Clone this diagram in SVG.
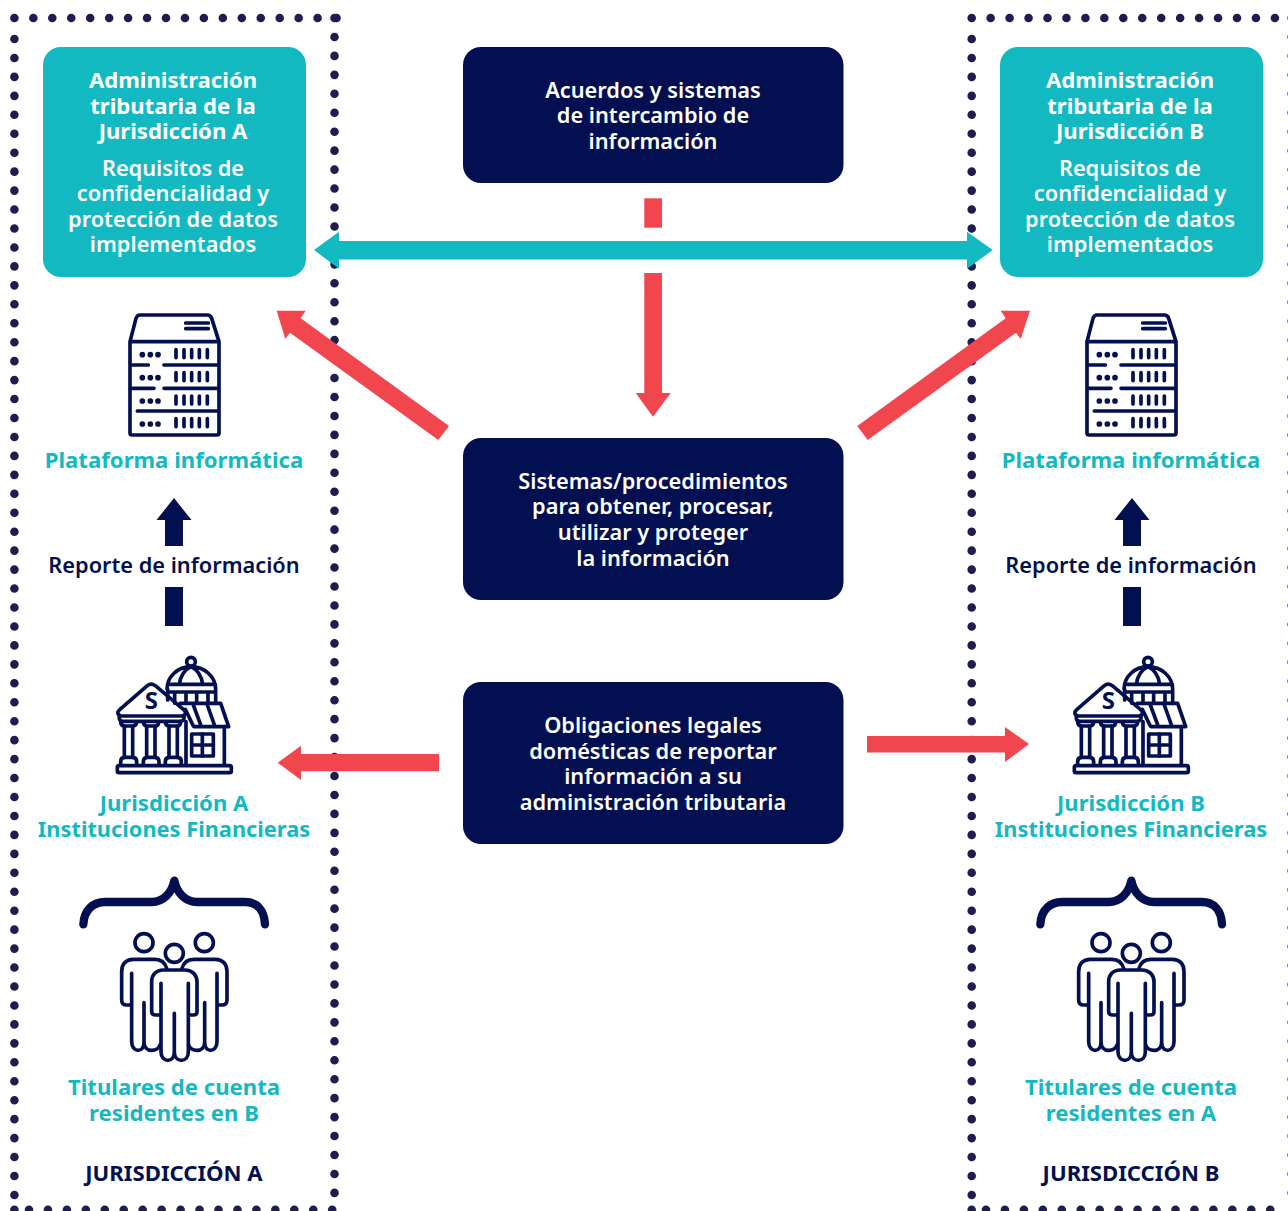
<svg xmlns="http://www.w3.org/2000/svg" xmlns:xlink="http://www.w3.org/1999/xlink" width="1288" height="1211" viewBox="0 0 1288 1211">
<style>
text{font-family:"Noto Sans","Open Sans","Liberation Sans",sans-serif;font-size:21.75px;font-weight:600;text-anchor:middle}
.b{font-weight:700;font-size:22.15px}
.w{fill:#fff}.t{fill:#13b9c1;font-weight:700;font-size:22.15px}.n{fill:#020f50}
.m{font-size:21.8px}
.dots{fill:none;stroke:#1d1d4f;stroke-width:8.6;stroke-linecap:round;stroke-dasharray:0 18.95}
.teal{fill:#13b9c1}.navy{fill:#020f50}.red{fill:#f2464f}
.ln{fill:none;stroke:#020f50;stroke-width:11;stroke-linecap:round;stroke-linejoin:round}
.fl{fill:#020f50}
</style>
<defs>
<g id="server" transform="translate(100,300) scale(.33333)">
<path class="ln" d="M90 125V400Q90 405 97 405H350Q357 405 357 400V125L335 55Q332 45 322 45H120Q112 45 108 55Z"/>
<path class="ln" d="M92 125H355M92 195H145M192 195H355M92 265H162M192 265H355M112 333H355M257 69H325M257 86H325"/>
<g class="fl"><circle cx="127" cy="164" r="8.5"/><circle cx="151" cy="164" r="8.5"/><circle cx="174" cy="164" r="8.5"/><circle cx="127" cy="233" r="8.5"/><circle cx="151" cy="233" r="8.5"/><circle cx="174" cy="233" r="8.5"/><circle cx="127" cy="303" r="8.5"/><circle cx="151" cy="303" r="8.5"/><circle cx="174" cy="303" r="8.5"/><circle cx="127" cy="372" r="8.5"/><circle cx="151" cy="372" r="8.5"/><circle cx="174" cy="372" r="8.5"/></g>
<path class="ln" d="M228 149V173M252 149V173M275 149V173M298 149V173M322 149V173M228 218V242M252 218V242M275 218V242M298 218V242M322 218V242M228 288V312M252 288V312M275 288V312M298 288V312M322 288V312M228 356V380M252 356V380M275 356V380M298 356V380M322 356V380"/>
</g>
<g id="bank" transform="translate(100,650) scale(.33333)">
<rect class="ln" x="52" y="347" width="342" height="21" rx="5"/>
<path class="ln" d="M62 198Q46 190 60 178L142 107Q153 98 166 107L250 178Q264 190 248 198Z"/>
<path class="ln" d="M58 198V205Q58 214 68 214H240Q252 214 252 205V198M62 214Q62 228 72 228H100Q110 228 110 214M130 214Q130 228 140 228H168Q176 228 176 214M196 214Q196 228 206 228H232Q242 228 242 214"/>
<path class="ln" d="M73 228V322M98 228V322M140 228V322M165 228V322M207 228V322M232 228V322"/>
<path class="ln" d="M62 345V335Q62 322 74 322H98Q110 322 110 335V345M130 345V335Q130 322 142 322H165Q177 322 177 335V345M196 345V335Q196 322 208 322H232Q244 322 244 335V345"/>
<circle class="ln" cx="273" cy="35" r="13"/>
<path class="ln" d="M201 118C201 80 233 50 273 50C313 50 347 80 347 118V160M203 103H346M273 50C252 60 241 80 238 103M273 50C294 60 305 80 308 103M203 126H346M203 118V150M224 126V160M258 126V160M290 126V160M324 126V160"/>
<path class="ln" d="M240 160H362L386 230H282M280 165L304 230M322 165L345 230M256 178L280 228"/>
<path class="ln" d="M258 215V345M373 230V345"/>
<rect class="ln" x="275" y="252" width="65" height="66"/>
<path class="ln" d="M307 252V318M275 285H340"/>
<text x="154" y="176" style="font-size:72px;font-weight:700" fill="#020f50">S</text>
</g>
<g id="brace" transform="translate(70,870) scale(.33333)">
<path fill="none" stroke="#020f50" stroke-width="25" stroke-linecap="round" stroke-linejoin="round" d="M40 163C42 120 70 96 105 96H245C280 96 305 70 313 32C321 70 346 96 381 96H525C560 96 583 120 585 163"/>
</g>
<g id="people" transform="translate(70,870) scale(.33333)">
<circle class="ln" cx="222" cy="218" r="27"/><circle class="ln" cx="313" cy="250" r="27"/><circle class="ln" cx="403" cy="218" r="27"/>
<path class="ln" d="M290 295C285 278 272 268 255 268H190C168 268 155 282 155 305V390Q155 405 170 405H185M185 310V515C185 532 195 541 204 541C214 541 222 532 222 515V398M222 515C222 532 232 541 245 541C256 541 267 535 270 525"/>
<path class="ln" d="M336 295C341 278 354 268 371 268H436C458 268 471 282 471 305V390Q471 405 456 405H441M441 310V515C441 532 431 541 422 541C412 541 404 532 404 515V398M404 515C404 532 394 541 381 541C370 541 359 535 356 525"/>
<path class="ln" d="M245 425V335C245 315 258 300 280 300H345C367 300 381 315 381 335V425Q381 435 370 435H355M245 425Q245 435 258 435H273M273 340V545C273 562 283 571 293 571C304 571 313 562 313 545V430M313 545C313 562 323 571 334 571C345 571 355 562 355 545V340"/>
</g>
</defs>
<g id="frame-a">
<path class="dots" d="M14.4 18H340"/>
<path class="dots" d="M14.4 39V1200"/>
<path class="dots" d="M334.5 18V1200"/>
<path class="dots" d="M29 1209.8H340"/>
<circle cx="14.4" cy="1209.8" r="4.3" fill="#1d1d4f"/>
</g>
<g id="frame-b">
<path class="dots" d="M971.7 18H1285"/>
<path class="dots" d="M971.7 39V1200"/>
<path class="dots" d="M1291.7 18V1200"/>
<path class="dots" d="M986 1209.8H1288"/>
<circle cx="971.7" cy="1209.8" r="4.3" fill="#1d1d4f"/>
</g>
<g id="connectors">
<polygon class="teal" points="314,250 339,231.7 339,241 967,241 967,231.7 992.7,250 967,268.7 967,259.6 339,259.6 339,268.7"/>
<rect class="red" x="644.3" y="198.3" width="17.7" height="29.4"/>
<polygon class="red" points="644.3,273 662,273 662,393 670.7,393 653,416.7 635.7,393 644.3,393"/>
<polygon class="red" points="276.7,310.7 305.7,310.7 300.7,318.3 449,426 438.3,440 290,332.7 285.3,339"/>
<polygon class="red" points="1030,310.7 1000.7,310.7 1005.7,318.3 857.3,426 867.7,440 1016,332.7 1020.7,339"/>
<polygon class="red" points="277.7,762.7 301,745.7 301,754 439,754 439,771.3 301,771.3 301,780"/>
<polygon class="red" points="1029,744 1005,727 1005,736 867,736 867,752.5 1005,752.5 1005,762"/>
<polygon class="navy" points="174,498 191.500,520 183,520 183,546 165,546 165,520 156.500,520"/>
<rect class="navy" x="165" y="587" width="18" height="39"/>
<polygon class="navy" points="1132,498 1149.500,520 1141,520 1141,546 1123,546 1123,520 1114.500,520"/>
<rect class="navy" x="1123" y="587" width="18" height="39"/>
</g>
<g id="admin-a">
<rect class="teal" x="43" y="47" width="263" height="230" rx="18"/>
<text class="w b"><tspan x="173" y="88">Administración</tspan><tspan x="173" y="114">tributaria de la</tspan><tspan x="173" y="139">Jurisdicción A</tspan></text>
<text class="w"><tspan x="173" y="176">Requisitos de</tspan><tspan x="173" y="201">confidencialidad y</tspan><tspan x="173" y="227">protección de datos</tspan><tspan x="173" y="252">implementados</tspan></text>
</g>
<g id="admin-b">
<rect class="teal" x="1000" y="47" width="263" height="230" rx="18"/>
<text class="w b"><tspan x="1130" y="88">Administración</tspan><tspan x="1130" y="114">tributaria de la</tspan><tspan x="1130" y="139">Jurisdicción B</tspan></text>
<text class="w"><tspan x="1130" y="176">Requisitos de</tspan><tspan x="1130" y="201">confidencialidad y</tspan><tspan x="1130" y="227">protección de datos</tspan><tspan x="1130" y="252">implementados</tspan></text>
</g>
<g id="acuerdos">
<rect class="navy" x="463" y="47" width="380.500" height="136" rx="18"/>
<text class="w"><tspan x="653" y="98">Acuerdos y sistemas</tspan><tspan x="653" y="123">de intercambio de</tspan><tspan x="653" y="149">información</tspan></text>
</g>
<g id="sistemas">
<rect class="navy" x="463" y="438" width="380.500" height="162" rx="18"/>
<text class="w"><tspan x="653" y="489">Sistemas/procedimientos</tspan><tspan x="653" y="514">para obtener, procesar,</tspan><tspan x="653" y="540">utilizar y proteger</tspan><tspan x="653" y="566">la información</tspan></text>
</g>
<g id="obligaciones">
<rect class="navy" x="463" y="682" width="380.500" height="162" rx="18"/>
<text class="w"><tspan x="653" y="733">Obligaciones legales</tspan><tspan x="653" y="759">domésticas de reportar</tspan><tspan x="653" y="784">información a su</tspan><tspan x="653" y="810">administración tributaria</tspan></text>
</g>
<g id="plataforma-a"><use xlink:href="#server"/><text class="t" x="174" y="468">Plataforma informática</text></g>
<g id="plataforma-b"><use xlink:href="#server" x="957"/><text class="t" x="1131" y="468">Plataforma informática</text></g>
<g id="reporte-a"><text class="n" x="174" y="573">Reporte de información</text></g>
<g id="reporte-b"><text class="n" x="1131" y="573">Reporte de información</text></g>
<g id="instituciones-a"><use xlink:href="#bank"/><text class="t"><tspan x="174" y="811">Jurisdicción A</tspan><tspan class="m" x="174" y="837">Instituciones Financieras</tspan></text></g>
<g id="instituciones-b"><use xlink:href="#bank" x="957"/><text class="t"><tspan x="1131" y="811">Jurisdicción B</tspan><tspan class="m" x="1131" y="837">Instituciones Financieras</tspan></text></g>
<g id="titulares-a"><use xlink:href="#brace"/><use xlink:href="#people"/><text class="t"><tspan x="174" y="1095">Titulares de cuenta</tspan><tspan x="174" y="1121">residentes en B</tspan></text></g>
<g id="titulares-b"><use xlink:href="#brace" x="957"/><use xlink:href="#people" x="957"/><text class="t"><tspan x="1131" y="1095">Titulares de cuenta</tspan><tspan x="1131" y="1121">residentes en A</tspan></text></g>
<g id="label-a"><text class="n b" x="174" y="1181">JURISDICCIÓN A</text></g>
<g id="label-b"><text class="n b" x="1131" y="1181">JURISDICCIÓN B</text></g>
</svg>
